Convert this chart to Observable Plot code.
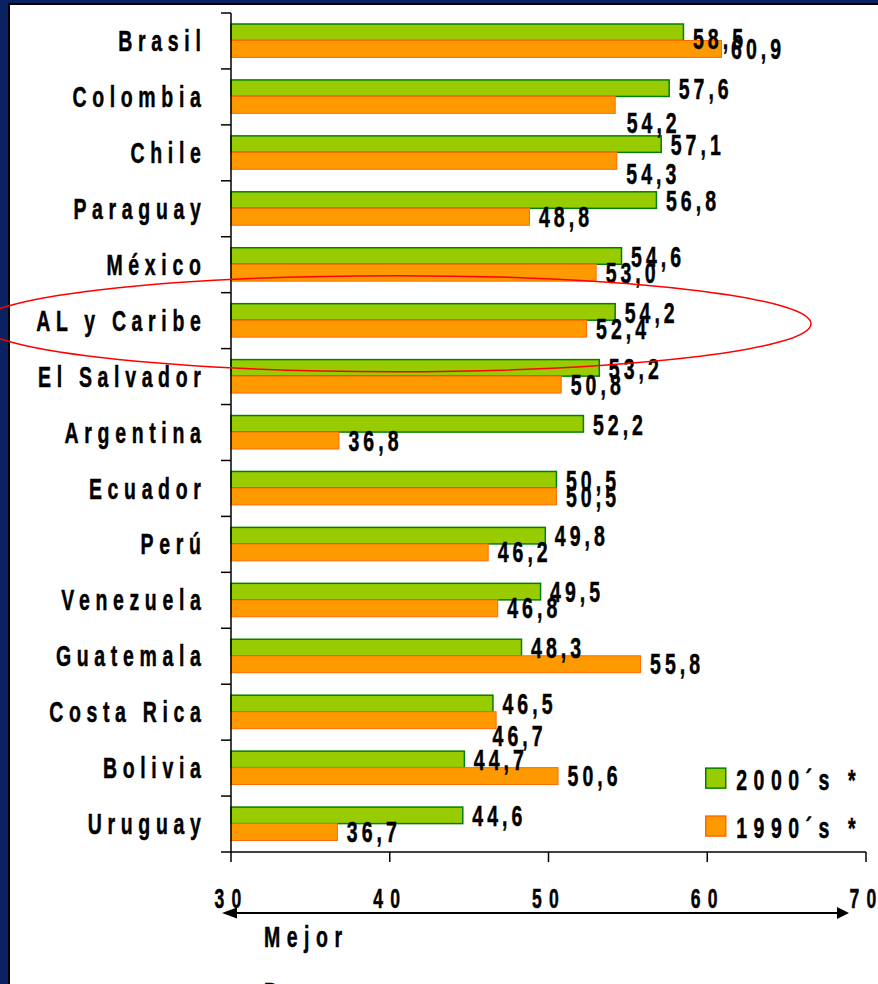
<!DOCTYPE html>
<html>
<head>
<meta charset="utf-8">
<script src="https://cdn.jsdelivr.net/npm/d3@7"></script>
<script src="https://cdn.jsdelivr.net/npm/@observablehq/plot@0.6"></script>
<style>
  html, body { margin: 0; padding: 0; background: #fff; overflow: hidden; }
  #chart svg { display: block; }
</style>
</head>
<body>
<div id="chart"></div>
<script>
// ---- data ----
const countries = ["Brasil", "Colombia", "Chile", "Paraguay", "México", "AL y Caribe", "El Salvador",
  "Argentina", "Ecuador", "Perú", "Venezuela", "Guatemala", "Costa Rica", "Bolivia", "Uruguay"];
const values2000 = [58.5, 57.6, 57.1, 56.8, 54.6, 54.2, 53.2, 52.2, 50.5, 49.8, 49.5, 48.3, 46.5, 44.7, 44.6];
const values1990 = [60.9, 54.2, 54.3, 48.8, 53.0, 52.4, 50.8, 36.8, 50.5, 46.2, 46.8, 55.8, 46.7, 50.6, 36.7];
const seriesNames = ["2000´s *", "1990´s *"];
const xTicks = [30, 40, 50, 60, 70];
const highlighted = "AL y Caribe";
const arrowLabels = ["Mejor", "Peor"];

// ---- styles ----
const FONT = "'Liberation Sans', Arial, Helvetica, sans-serif";
const SX = 0.65; // horizontal condensing of all text
const GREEN = "#99cc00", GREEN_STROKE = "#008000";
const ORANGE = "#ff9900", ORANGE_STROKE = "#ff6a00";
const NAVY = "#0a2262";
// hand-placed label offsets (pixels) as in the original slide
const labelOffsets2000 = {"Brasil": [9, -2]};
const labelOffsets1990 = {"Colombia": [11, 26], "Chile": [9, 21], "Costa Rica": [-4, 24]};

const fmt = v => d3.format(".1f")(v).replace(".", ",");
const rows2000 = countries.map((c, i) => ({country: c, value: values2000[i]}));
const rows1990 = countries.map((c, i) => ({country: c, value: values1990[i]}));
const xMin = xTicks[0], xMax = xTicks[xTicks.length - 1];

function valueLabels(rows, offsets, defDx, defDy) {
  const groups = new Map();
  rows.forEach(r => {
    const [dx, dy] = offsets[r.country] || [defDx, defDy];
    const key = dx + "|" + dy;
    if (!groups.has(key)) groups.set(key, {dx, dy, rows: []});
    groups.get(key).rows.push(r);
  });
  return [...groups.values()].map(g => Plot.text(g.rows, {x: "value", y: "country", text: d => fmt(d.value),
    dx: g.dx, dy: g.dy, textAnchor: "start", fontSize: 30, fontWeight: "bold", fill: "black"}));
}

const plot = Plot.plot({
  width: 878,
  height: 984,
  marginLeft: 231,
  marginRight: 12,
  marginTop: 13,
  marginBottom: 132,
  style: {background: "transparent", fontFamily: FONT, overflow: "hidden"},
  x: {domain: [xMin, xMax], axis: null},
  y: {type: "band", domain: countries, padding: 0, round: false, axis: null},
  marks: [
    Plot.barX(rows2000, {y: "country", x1: () => xMin, x2: "value", fill: GREEN, stroke: GREEN_STROKE,
      strokeWidth: 1.5, insetTop: 11, insetBottom: 28.4}),
    Plot.barX(rows1990, {y: "country", x1: () => xMin, x2: "value", fill: ORANGE, stroke: ORANGE_STROKE,
      strokeWidth: 1, insetTop: 27.5, insetBottom: 11.5}),
    ...valueLabels(rows2000, labelOffsets2000, 9, -8),
    ...valueLabels(rows1990, labelOffsets1990, 9, 8),
    Plot.text(countries, {y: d => d, text: d => d, frameAnchor: "left", textAnchor: "end", dx: -25,
      fontSize: 30, fontWeight: "bold", fill: "black"}),
    Plot.text(xTicks, {x: d => d, text: d => String(d), frameAnchor: "bottom", lineAnchor: "top", dy: 36,
      fontSize: 27, fontWeight: "bold", fill: "black"})
  ]
});

document.getElementById("chart").appendChild(plot);

// ---- decorations using the plot's scales ----
const svg = d3.select(plot);
const xs = plot.scale("x"), ys = plot.scale("y");
const X = v => xs.apply(v);
const Y = c => ys.apply(c);
const step = ys.step || ys.bandwidth || ((ys.range[1] - ys.range[0]) / countries.length);
const bw = ys.bandwidth || step;
const x0 = X(xMin), x1 = X(xMax);
const yTop = Y(countries[0]);
const yBottom = Y(countries[countries.length - 1]) + bw;

// letter spacing for plot texts
const countrySet = new Set(countries);
const tickSet = new Set(xTicks.map(String));
svg.selectAll("text").each(function() {
  const s = this.textContent;
  let ls = 6.2;
  if (countrySet.has(s)) ls = 8.7;
  else if (tickSet.has(s)) ls = 11;
  this.style.letterSpacing = ls + "px";
});

// frame background
const W = 878, H = 984;
svg.insert("rect", ":first-child").attr("x", 10).attr("y", 5).attr("width", W).attr("height", H).attr("fill", "#fff");
svg.insert("rect", ":first-child").attr("x", 8).attr("y", 3).attr("width", W).attr("height", H).attr("fill", "#000");
svg.insert("rect", ":first-child").attr("x", 0).attr("y", 0).attr("width", W).attr("height", H).attr("fill", NAVY);

const deco = svg.append("g").attr("text-anchor", "start");
// axes lines
deco.append("line").attr("x1", x0).attr("x2", x0).attr("y1", yTop).attr("y2", yBottom)
  .attr("stroke", "#000").attr("stroke-width", 1.5);
deco.append("line").attr("x1", x0 - 10).attr("x2", x1).attr("y1", yBottom).attr("y2", yBottom)
  .attr("stroke", "#000").attr("stroke-width", 1.7);
// y boundary ticks
countries.forEach(c => {
  deco.append("line").attr("x1", x0 - 10).attr("x2", x0).attr("y1", Y(c)).attr("y2", Y(c))
    .attr("stroke", "#000").attr("stroke-width", 1.5);
});
// x ticks
xTicks.forEach(t => {
  deco.append("line").attr("x1", X(t)).attr("x2", X(t)).attr("y1", yBottom).attr("y2", yBottom + 10)
    .attr("stroke", "#000").attr("stroke-width", 1.5);
});

// legend
const legendItems = [
  {name: seriesNames[0], fill: GREEN, stroke: GREEN_STROKE, cy: Y(countries[13]) + 38},
  {name: seriesNames[1], fill: ORANGE, stroke: ORANGE_STROKE, cy: Y(countries[14]) + 30}
];
legendItems.forEach(it => {
  deco.append("rect").attr("x", X(60) - 1.5).attr("y", it.cy - 10).attr("width", 20).attr("height", 20)
    .attr("fill", it.fill).attr("stroke", it.stroke).attr("stroke-width", 1.5);
  deco.append("text").attr("transform", `translate(${X(60) + 29},${it.cy + 12})`)
    .attr("text-anchor", "start")
    .attr("font-size", 30).attr("font-weight", "bold").attr("font-family", FONT)
    .style("letter-spacing", "10px").text(it.name);
});

// arrow
const ay = yBottom + 61;
deco.append("line").attr("x1", x0 - 2).attr("x2", X(xMax) - 24).attr("y1", ay).attr("y2", ay)
  .attr("stroke", "#000").attr("stroke-width", 2);
deco.append("path").attr("d", `M${x0 - 9},${ay} L${x0 + 6},${ay - 5.5} L${x0 + 6},${ay + 5.5} Z`).attr("fill", "#000");
const ax = X(xMax) - 17;
deco.append("path").attr("d", `M${ax},${ay} L${ax - 12},${ay - 6} L${ax - 12},${ay + 6} Z`).attr("fill", "#000");

// arrow labels
deco.append("text").attr("transform", `translate(${x0 + 33},${ay + 34})`)
  .attr("text-anchor", "start")
  .attr("font-size", 30).attr("font-weight", "bold").attr("font-family", FONT)
  .style("letter-spacing", "10px").text(arrowLabels[0]);
deco.append("text").attr("transform", `translate(${x0 + 33},${ay + 90})`)
  .attr("text-anchor", "start")
  .attr("font-size", 30).attr("font-weight", "bold").attr("font-family", FONT)
  .style("letter-spacing", "10px").text(arrowLabels[1]);

// highlight ellipse
const hy = Y(highlighted) + bw / 2 + 3;
deco.append("ellipse").attr("cx", 395).attr("cy", hy).attr("rx", 416).attr("ry", 48)
  .attr("fill", "none").attr("stroke", "#ff0000").attr("stroke-width", 1.5);

// condense all text horizontally and thicken slightly
svg.selectAll("text").each(function() {
  const tr = this.getAttribute("transform") || "";
  let tx = 0, ty = 0;
  const xa = this.getAttribute("x"), ya = this.getAttribute("y");
  if (xa && !/em$/.test(xa)) { tx = +xa || 0; this.removeAttribute("x"); }
  if (ya && !/em$/.test(ya)) { ty = +ya || 0; this.removeAttribute("y"); }
  this.setAttribute("transform", `${tr} translate(${tx},${ty}) scale(${SX},1)`);
  this.setAttribute("stroke", "#000");
  this.setAttribute("stroke-width", 0.5);
});
</script>
</body>
</html>
